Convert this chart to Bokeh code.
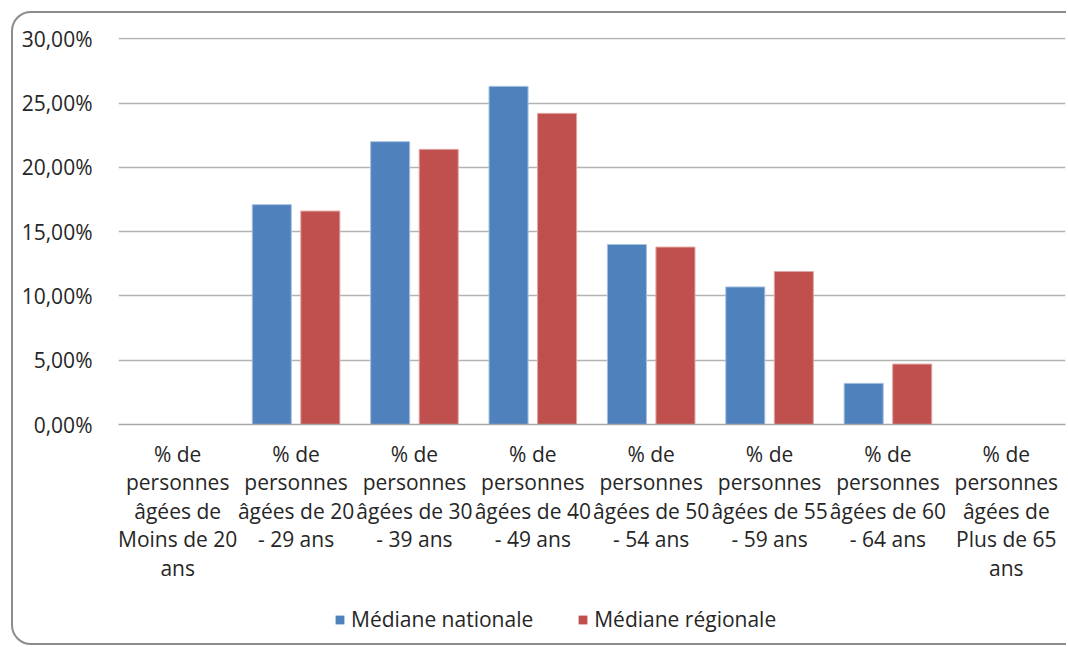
from bokeh.plotting import figure
from bokeh.layouts import column
from bokeh.models import (ColumnDataSource, FactorRange, Range1d, FixedTicker,
                          CustomJSTickFormatter, Legend, LegendItem)
from bokeh.transform import dodge
from bokeh.embed import file_html
from bokeh.resources import INLINE

categories = [
    "% de\npersonnes\nâgées de\nMoins de 20\nans",
    "% de\npersonnes\nâgées de 20\n- 29 ans",
    "% de\npersonnes\nâgées de 30\n- 39 ans",
    "% de\npersonnes\nâgées de 40\n- 49 ans",
    "% de\npersonnes\nâgées de 50\n- 54 ans",
    "% de\npersonnes\nâgées de 55\n- 59 ans",
    "% de\npersonnes\nâgées de 60\n- 64 ans",
    "% de\npersonnes\nâgées de\nPlus de 65\nans",
]
mediane_nationale = [0.0, 17.1, 22.0, 26.3, 14.0, 10.7, 3.2, 0.0]
mediane_regionale = [0.0, 16.6, 21.4, 24.2, 13.8, 11.9, 4.7, 0.0]
series_names = ["Médiane nationale", "Médiane régionale"]
series_colors = ["#4F81BD", "#C0504D"]
y_ticks = [0, 5, 10, 15, 20, 25, 30]

FONT = "Open Sans"
TEXT = "#262626"
W = 1066

source = ColumnDataSource(data=dict(cat=categories, nat=mediane_nationale, reg=mediane_regionale))

p = figure(frame_width=947, frame_height=387, x_range=FactorRange(*categories), y_range=Range1d(0, 30.1),
           output_backend="svg", toolbar_location=None,
           min_border_left=118, min_border_right=1, min_border_top=37, min_border_bottom=0)
p.outline_line_color = None
p.background_fill_color = "white"
p.border_fill_alpha = 0
p.x_range.range_padding = 0

p.vbar(x=dodge("cat", -0.205, range=p.x_range), top="nat", width=0.33, source=source,
       fill_color=series_colors[0], line_color="#A9C1E0", line_width=1)
p.vbar(x=dodge("cat", 0.205, range=p.x_range), top="reg", width=0.33, source=source,
       fill_color=series_colors[1], line_color="#E0A6A4", line_width=1)

p.yaxis.ticker = FixedTicker(ticks=y_ticks)
p.yaxis.formatter = CustomJSTickFormatter(code="return tick.toFixed(2).replace('.', ',') + '%';")
p.yaxis.axis_line_color = None
p.yaxis.major_tick_line_color = None
p.yaxis.minor_tick_line_color = None
p.yaxis.major_label_text_font = FONT
p.yaxis.major_label_text_font_size = "21px"
p.yaxis.major_label_text_color = TEXT
p.yaxis.major_label_standoff = 20

p.xaxis.axis_line_color = "#A6A6A6"
p.xaxis.axis_line_width = 1.5
p.xaxis.major_tick_line_color = None
p.xaxis.minor_tick_line_color = None
p.xaxis.major_label_text_font = FONT
p.xaxis.major_label_text_font_size = "21px"
p.xaxis.major_label_text_color = TEXT
p.xaxis.major_label_text_line_height = 1.02
p.xaxis.major_label_standoff = 9

p.xgrid.grid_line_color = None
p.ygrid.grid_line_color = "#B3B3B3"
p.ygrid.grid_line_width = 1.5

# legend strip below the chart (zero-width proxies of the same series; only the legend shows)
lg = figure(width=W, height=61, x_range=p.x_range, y_range=Range1d(-2, -1),
            x_axis_location=None, y_axis_location=None, output_backend="svg",
            toolbar_location=None, min_border=0)
lg.outline_line_color = None
lg.grid.visible = False
lg.background_fill_alpha = 0
lg.border_fill_alpha = 0
d1 = lg.vbar(x="cat", top="nat", width=0, source=source,
             fill_color=series_colors[0], line_color=None)
d2 = lg.vbar(x="cat", top="reg", width=0, source=source,
             fill_color=series_colors[1], line_color=None)
legend = Legend(items=[LegendItem(label=series_names[0], renderers=[d1]),
                       LegendItem(label=series_names[1], renderers=[d2])],
                orientation="horizontal", location=(216, 12),
                glyph_width=11, glyph_height=11, label_text_font=FONT,
                label_text_font_size="21px", label_text_color=TEXT,
                label_standoff=6, spacing=44, padding=0, margin=0,
                border_line_color=None, background_fill_alpha=0)
lg.add_layout(legend)

layout = column(p, lg, spacing=0)
svg = ("<svg xmlns='http://www.w3.org/2000/svg' width='1066' height='645'>"
       "<rect x='12' y='12' width='1200' height='632' rx='19' ry='19' fill='white' "
       "stroke='%238C8C8C' stroke-width='2'/></svg>")
layout.styles = {"background-image": 'url("data:image/svg+xml;utf8,%s")' % svg,
                 "background-repeat": "no-repeat"}

open("out.html", "w").write(file_html(layout, INLINE))
